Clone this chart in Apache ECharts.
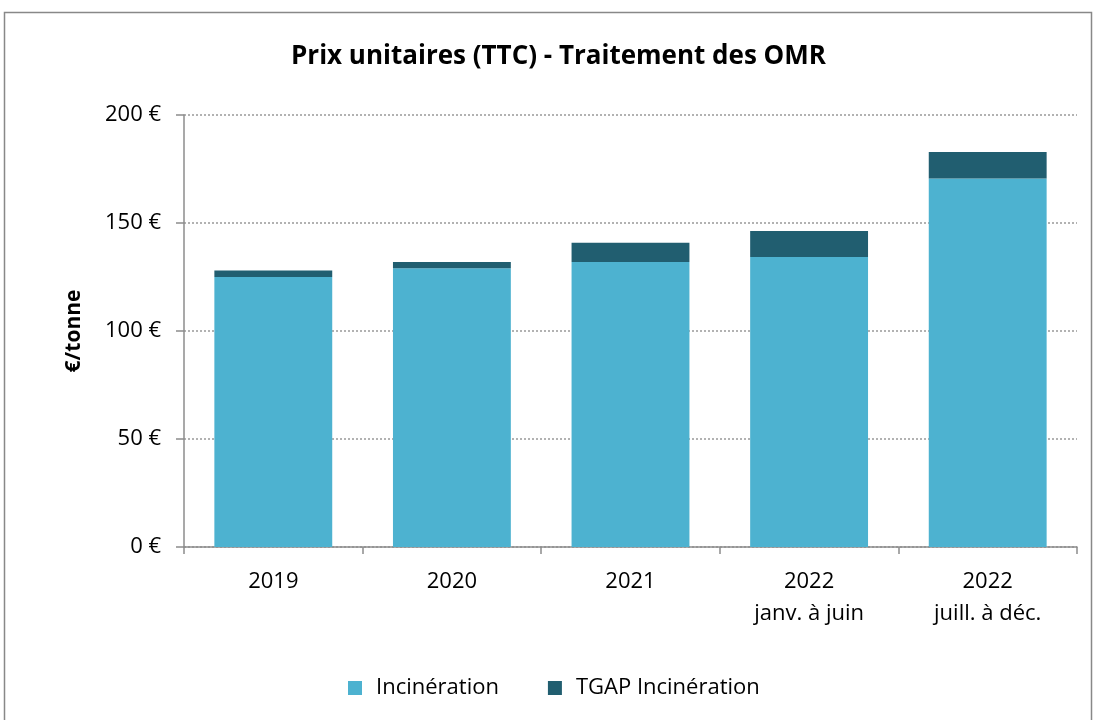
<!DOCTYPE html>
<html>
<head>
<meta charset="utf-8">
<script src="https://cdn.jsdelivr.net/npm/echarts@6/dist/echarts.min.js"></script>
<style>
  html, body { margin: 0; padding: 0; background: #fff; }
  #chart { width: 1094px; height: 720px; }
</style>
</head>
<body>
<div id="chart"></div>
<script>
// valeurs (€/tonne)
const categories = ['2019', '2020', '2021', '2022\njanv. à juin', '2022\njuill. à déc.']
const incineration = [125, 129, 132, 134.3, 170.6]
const tgapIncineration = [3, 3, 8.8, 12, 12.3]
const yTicks = [0, 50, 100, 150, 200]

const police = 'Open Sans, Noto Sans, sans-serif'

var chartDom = document.getElementById('chart')
var myChart = echarts.init(chartDom)

var option = {
  animation: false,
  backgroundColor: '#fff',
  title: {
    text: 'Prix unitaires (TTC) - Traitement des OMR',
    left: 286,
    top: 39,
    textStyle: { fontFamily: police, fontSize: 26, fontWeight: 'bold', color: '#000' }
  },
  graphic: [{
    type: 'rect',
    shape: { x: 4.5, y: 12.5, width: 1087, height: 720 },
    style: { fill: 'none', stroke: '#888', lineWidth: 1.5 },
    silent: true
  }],
  grid: { left: 184, right: 17, top: 115, bottom: 173 },
  legend: {
    bottom: 16,
    left: 343,
    itemWidth: 14,
    itemHeight: 14,
    itemGap: 49,
    icon: 'rect',
    textStyle: { fontFamily: police, fontSize: 22, color: '#000', padding: [0, 0, 0, 9] },
    data: ['Incinération', 'TGAP Incinération']
  },
  xAxis: {
    type: 'category',
    data: categories,
    axisLine: { lineStyle: { color: '#8c8c8c', width: 1.5 } },
    axisTick: { show: true, length: 7, lineStyle: { color: '#8c8c8c', width: 1.5 } },
    axisLabel: {
      margin: 19,
      lineHeight: 32,
      fontFamily: police,
      fontSize: 22,
      color: '#000'
    }
  },
  yAxis: {
    type: 'value',
    min: yTicks[0],
    max: yTicks[yTicks.length - 1],
    interval: 50,
    name: '€/tonne',
    nameLocation: 'middle',
    nameGap: 99,
    nameTextStyle: { fontFamily: police, fontSize: 21, fontWeight: 'bold', color: '#000' },
    axisLine: { show: true, lineStyle: { color: '#8c8c8c', width: 1.5 } },
    axisTick: { show: true, length: 8, lineStyle: { color: '#8c8c8c', width: 1.5 } },
    splitLine: { lineStyle: { color: '#999', type: [2, 2], width: 1.5 } },
    axisLabel: {
      margin: 23,
      fontFamily: police,
      fontSize: 22,
      color: '#000',
      formatter: function (v) { return v + ' €' }
    }
  },
  series: [
    {
      name: 'Incinération',
      type: 'bar',
      stack: 'total',
      barCategoryGap: '34%',
      data: incineration,
      itemStyle: { color: '#4db2d0' }
    },
    {
      name: 'TGAP Incinération',
      type: 'bar',
      stack: 'total',
      data: tgapIncineration,
      itemStyle: { color: '#215e70' }
    }
  ]
}

option && myChart.setOption(option)
</script>
</body>
</html>
